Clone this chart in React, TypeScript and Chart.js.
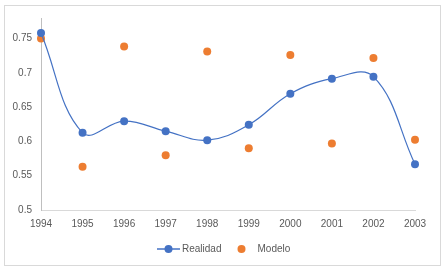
import React, { useEffect, useRef } from "react";
import { Chart, registerables } from "chart.js";

Chart.register(...registerables);

const years = ["1994", "1995", "1996", "1997", "1998", "1999", "2000", "2001", "2002", "2003"];
const realidad = [0.758, 0.6126, 0.6296, 0.615, 0.6019, 0.6243, 0.6696, 0.6915, 0.6944, 0.5668];
const modelo = [0.75, 0.5629, 0.7383, 0.58, 0.731, 0.59, 0.7262, 0.597, 0.7218, 0.6023];
const yTicks = [0.5, 0.55, 0.6, 0.65, 0.7, 0.75];
const yMin = 0.5;
const yMax = 0.78;
const seriesNames = ["Realidad", "Modelo"];

const BLUE = "#4472C4";
const ORANGE = "#ED7D31";
const TEXT = "#595959";
const FONT = "'Liberation Sans', Arial, sans-serif";

export default function App() {
  const ref = useRef<HTMLCanvasElement | null>(null);

  useEffect(() => {
    document.body.style.margin = "0";
    const canvas = ref.current!;
    const frame = {
      id: "frame",
      beforeDraw(chart: any) {
        const ctx = chart.ctx;
        ctx.save();
        ctx.fillStyle = "#ffffff";
        ctx.fillRect(0, 0, chart.width, chart.height);
        ctx.strokeStyle = "#d9d9d9";
        ctx.lineWidth = 1;
        ctx.strokeRect(4.5, 5.5, 436, 260);
        ctx.restore();
      },
      afterDraw(chart: any) {
        const ctx = chart.ctx;
        ctx.save();
        const y = 249;
        ctx.font = `10px ${FONT}`;
        ctx.textBaseline = "middle";
        ctx.fillStyle = TEXT;
        // Realidad
        ctx.strokeStyle = BLUE;
        ctx.lineWidth = 1.5;
        ctx.beginPath();
        ctx.moveTo(157, y);
        ctx.lineTo(180, y);
        ctx.stroke();
        ctx.fillStyle = BLUE;
        ctx.beginPath();
        ctx.arc(168.5, y, 4, 0, Math.PI * 2);
        ctx.fill();
        ctx.fillStyle = TEXT;
        ctx.fillText(seriesNames[0], 182, y);
        // Modelo
        ctx.fillStyle = ORANGE;
        ctx.beginPath();
        ctx.arc(241.5, y, 4, 0, Math.PI * 2);
        ctx.fill();
        ctx.fillStyle = TEXT;
        ctx.fillText(seriesNames[1], 257.5, y);
        ctx.restore();
      },
    };

    const chart = new Chart(canvas, {
      type: "line",
      data: {
        labels: years,
        datasets: [
          {
            label: seriesNames[0],
            data: realidad,
            borderColor: BLUE,
            backgroundColor: BLUE,
            borderWidth: 1.2,
            tension: 0.4,
            pointRadius: 4,
            pointBorderWidth: 0,
            pointBackgroundColor: BLUE,
          },
          {
            label: seriesNames[1],
            data: modelo,
            showLine: false,
            borderColor: ORANGE,
            backgroundColor: ORANGE,
            pointRadius: 4,
            pointBorderWidth: 0,
            pointBackgroundColor: ORANGE,
          },
        ],
      },
      options: {
        responsive: false,
        animation: false,
        devicePixelRatio: 1,
        layout: { padding: { top: 18, left: 0, right: 29, bottom: 0 } },
        plugins: { legend: { display: false }, tooltip: { enabled: false } },
        scales: {
          x: {
            offset: false,
            grid: { display: false, drawTicks: false },
            border: { display: true, color: "#d9d9d9", width: 1 },
            ticks: {
              color: TEXT,
              font: { family: FONT, size: 10 },
              padding: 8,
              maxRotation: 0,
              autoSkip: false,
            },
            afterFit(scale: any) {
              scale.height = 61;
            },
          },
          y: {
            min: yMin,
            max: yMax,
            grid: { display: false, drawTicks: false },
            border: { display: true, color: "#bfbfbf", width: 1 },
            afterBuildTicks(scale: any) {
              scale.ticks = yTicks.map((v) => ({ value: v }));
            },
            ticks: {
              color: TEXT,
              font: { family: FONT, size: 10 },
              padding: 9,
              callback: (v: any) => String(Number(Number(v).toFixed(2))),
            },
            afterFit(scale: any) {
              scale.width = 41;
            },
          },
        },
      },
      plugins: [frame],
    });
    return () => chart.destroy();
  }, []);

  return (
    <div style={{ position: "fixed", left: 0, top: 0, width: 444, height: 271 }}>
      <canvas ref={ref} width={444} height={271} />
    </div>
  );
}
